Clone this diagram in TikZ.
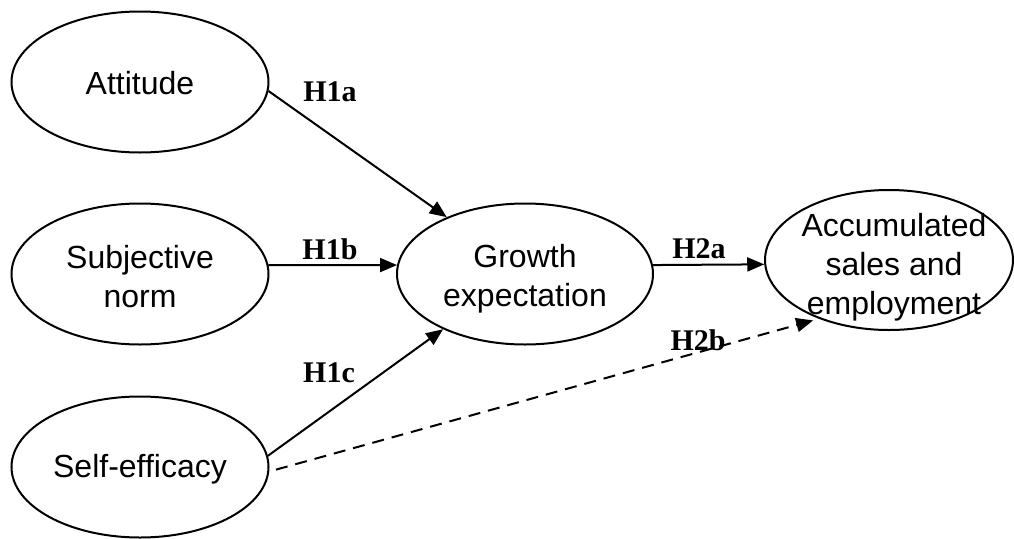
\documentclass[tikz,border=0pt]{standalone}
\usepackage{fontspec}
\setmainfont{Liberation Sans}
\newfontfamily\lblfont{Liberation Serif}
\usetikzlibrary{shapes.geometric,arrows.meta}
\tikzset{
  construct/.style={draw=black, line width=2pt, ellipse, inner sep=0pt,
    minimum width=257pt, minimum height=141pt},
  ctext/.style={align=center, font=\fontsize{32}{39}\selectfont, inner sep=0pt},
  hyp/.style={font=\lblfont\bfseries\fontsize{30}{30}\selectfont, inner sep=0pt},
  path/.style={draw=black, line width=2pt, -{Triangle[length=17pt,width=14pt]}},
  dashpath/.style={path, dash pattern=on 12pt off 8pt}
}
\begin{document}
\begin{tikzpicture}[x=1pt,y=-1pt]
\useasboundingbox (0,0) rectangle (1014,538);
% constructs
\node[construct] (att) at (140,82) {};
\node[ctext] at ([yshift=-1pt]att.center) {Attitude};
\node[construct] (subj) at (140,274) {};
\node[ctext] at ([yshift=-3pt]subj.center) {Subjective\\norm};
\node[construct] (self) at (140,467) {};
\node[ctext] at ([yshift=-2pt]self.center) {Self-efficacy};
\node[construct, minimum width=256pt] (grow) at (525,274) {};
\node[ctext] at ([yshift=-5pt]grow.center) {Growth\\expectation};
\node[construct, minimum width=248pt, minimum height=140pt] (acc) at (889,260) {};
\node[ctext] at ([xshift=5pt,yshift=-7pt]acc.center) {Accumulated\\sales and\\employment};
% paths
\draw[path] (att.-4) -- (grow.144);
\draw[path] (subj.4) -- (grow.176);
\draw[path] (self.5) -- (grow.214);
\draw[path] (grow.4) -- (acc.182);
\draw[dashpath, shorten <=7pt, shorten >=6pt] (self.-2) -- (acc.220);
% hypothesis labels
\node[hyp] (h1a) at (330,92) {H1a};
\node[hyp] (h1b) at (330,249) {H1b};
\node[hyp] (h1c) at (329,373) {H1c};
\node[hyp] (h2a) at (699,249) {H2a};
\node[hyp] (h2b) at (698,340) {H2b};
\end{tikzpicture}
\end{document}
